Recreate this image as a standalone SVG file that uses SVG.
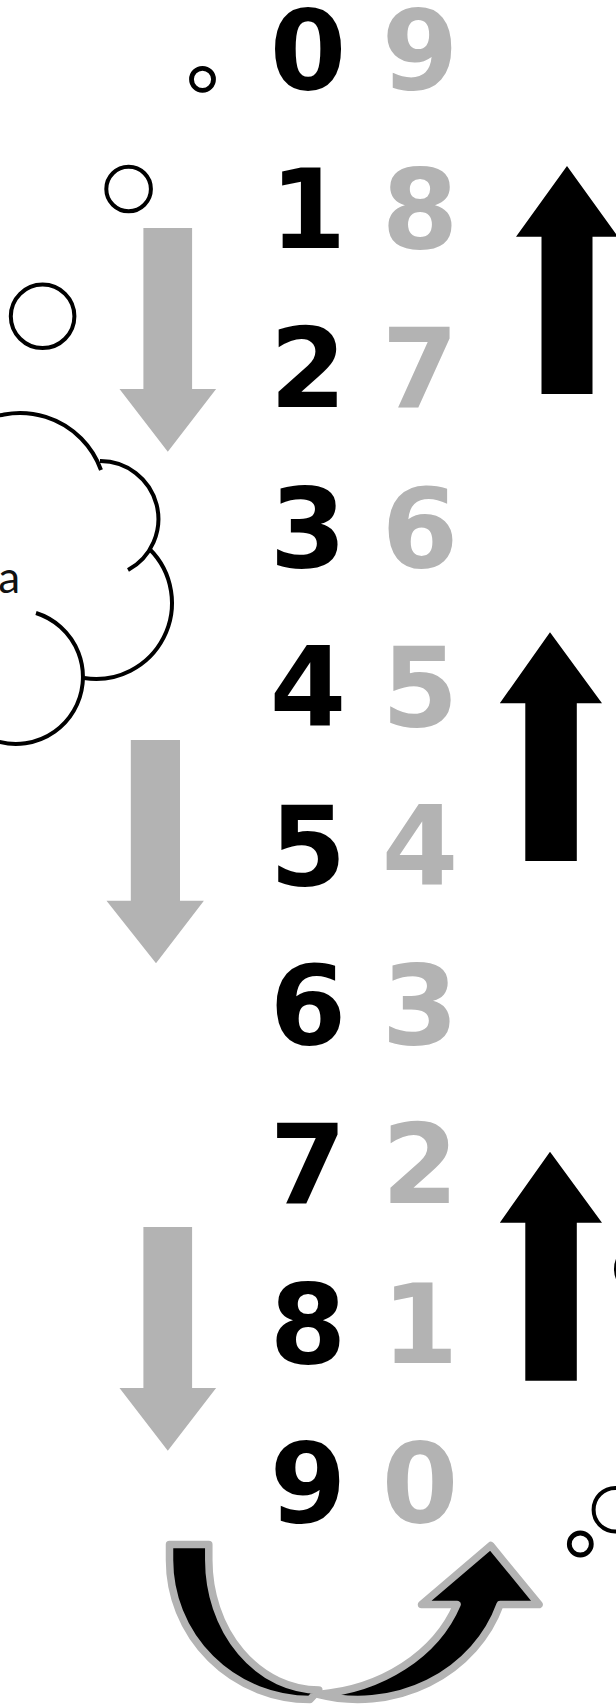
<svg xmlns="http://www.w3.org/2000/svg" width="616" height="1704" viewBox="0 0 616 1704">
<style>
.bg{fill:#ffffff}
.dk{font-family:"DejaVu Sans","Liberation Sans",sans-serif;font-weight:bold;font-size:110px;text-anchor:middle;fill:#000000}
.lt{font-family:"DejaVu Sans","Liberation Sans",sans-serif;font-weight:bold;font-size:110px;text-anchor:middle;fill:#b3b3b3}
.down{fill:#b3b3b3}
.up{fill:#000000}
.ring{fill:none;stroke:#000000;stroke-width:4}
.ring-s{fill:none;stroke:#000000;stroke-width:4.8}
.cloud{fill:none;stroke:#000000;stroke-width:4}
.loop{fill:#000000;stroke:#b3b3b3;stroke-width:7.5;stroke-linejoin:round}
.lbl{font-family:"Lato","Liberation Sans",sans-serif;font-size:44px;fill:#111111;text-anchor:end}
</style>
<rect class="bg" x="0" y="0" width="616" height="1704"/>

<g id="cloud">
  <path class="cloud" d="M-30,429 A86 86 0 0 1 101,470"/>
  <path class="cloud" d="M100,461 A58 58 0 0 1 128,570"/>
  <path class="cloud" d="M149.5,549 A76 76 0 0 1 84,678"/>
  <path class="cloud" d="M36,613 A67 67 0 1 1 -30,725.7"/>
  <text class="lbl" x="20" y="593">a</text>
</g>

<g id="bubbles">
  <circle class="ring-s" cx="202.5" cy="79.3" r="11"/>
  <circle class="ring" cx="128.6" cy="189" r="22.3"/>
  <circle class="ring" cx="42.6" cy="316.3" r="31.8"/>
  <circle class="ring" cx="640" cy="1269" r="24"/>
  <circle class="ring" cx="615.4" cy="1509.7" r="21.8"/>
  <circle class="ring-s" cx="580.3" cy="1544" r="11"/>
</g>

<g id="digits-left">
  <text class="dk" x="308" y="89">0</text>
  <text class="dk" x="308" y="248.2">1</text>
  <text class="dk" x="308" y="407.4">2</text>
  <text class="dk" x="308" y="566.6">3</text>
  <text class="dk" x="308" y="725.8">4</text>
  <text class="dk" x="308" y="885">5</text>
  <text class="dk" x="308" y="1044.2">6</text>
  <text class="dk" x="308" y="1203.4">7</text>
  <text class="dk" x="308" y="1362.6">8</text>
  <text class="dk" x="308" y="1521.8">9</text>
</g>

<g id="digits-right">
  <text class="lt" x="420" y="89">9</text>
  <text class="lt" x="420" y="248.2">8</text>
  <text class="lt" x="420" y="407.4">7</text>
  <text class="lt" x="420" y="566.6">6</text>
  <text class="lt" x="420" y="725.8">5</text>
  <text class="lt" x="420" y="885">4</text>
  <text class="lt" x="420" y="1044.2">3</text>
  <text class="lt" x="420" y="1203.4">2</text>
  <text class="lt" x="420" y="1362.6">1</text>
  <text class="lt" x="420" y="1521.8">0</text>
</g>

<g id="down-arrows">
  <polygon class="down" points="143.4,228 192.1,228 192.1,389 216.1,389 167.8,451.7 119.5,389 143.4,389"/>
  <polygon class="down" points="130.8,740 180,740 180,900.7 203.9,900.7 156,963.3 106.5,900.7 130.8,900.7"/>
  <polygon class="down" points="143.4,1227 192.1,1227 192.1,1388 216.1,1388 167.8,1450.7 119.5,1388 143.4,1388"/>
</g>

<g id="up-arrows">
  <polygon class="up" points="567,166 618,236.7 592.5,236.7 592.5,394 541.5,394 541.5,236.7 516,236.7"/>
  <polygon class="up" points="550,632.3 602,703.3 576.8,703.3 576.8,861 525.3,861 525.3,703.3 499.8,703.3"/>
  <polygon class="up" points="550,1151.7 602,1222.7 576.8,1222.7 576.8,1380.7 525.3,1380.7 525.3,1222.7 499.8,1222.7"/>
</g>

<g id="loop-arrow">
  <path class="loop" d="M169.5,1544.5 H208.8 V1560 A110 130 0 0 0 318.8,1690 L310,1699.5 A140.5 139.5 0 0 1 169.5,1560 Z"/>
  <path class="loop" d="M457,1604.5 L421.5,1604.5 L490.7,1545.5 L539,1604.5 L500.1,1604.5 A150 139.5 0 0 1 318,1694.4 A164 135 0 0 0 457,1604.5 Z"/>
</g>
</svg>
